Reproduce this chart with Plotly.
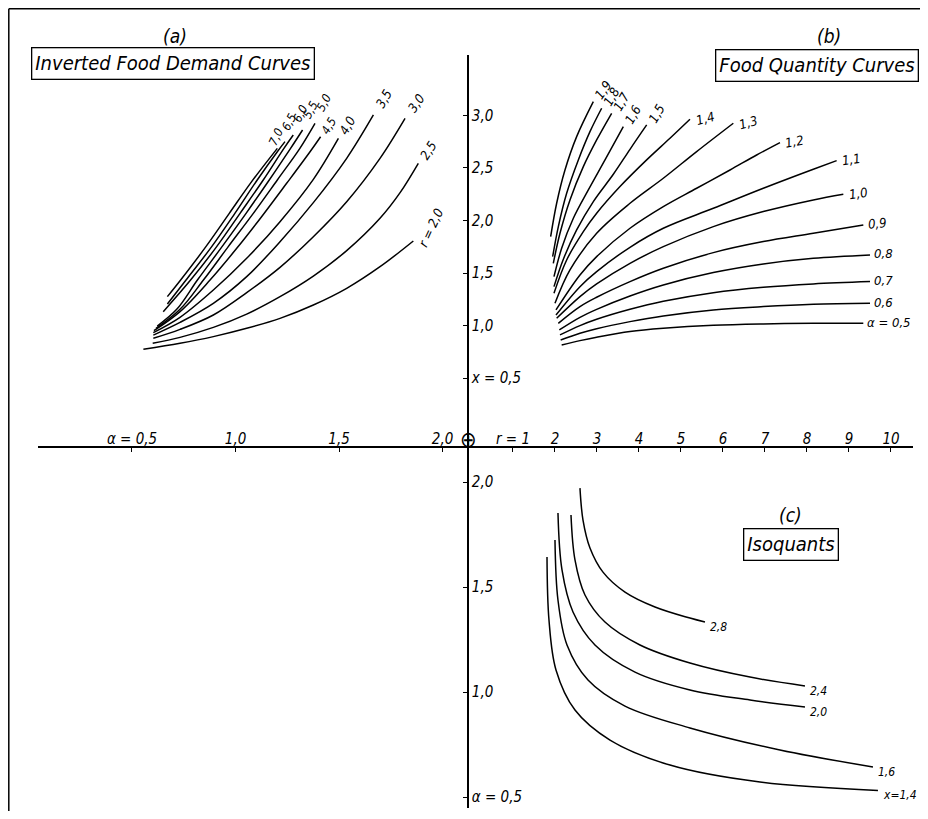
import plotly.graph_objects as go

# ---------------- data ----------------
# (a) Inverted food demand curves: alpha (horizontal, to the left) vs x (vertical, up), one curve per r
demand_r_labels = ["r = 2,0", "2,5", "3,0", "3,5", "4,0", "4,5", "5,0", "5,5", "6,0", "6,5", "7,0"]
demand_alpha = [
    [0.555, 0.732, 0.893, 1.054, 1.215, 1.376, 1.537, 1.698, 1.859],
    [0.600, 0.732, 0.893, 1.054, 1.215, 1.376, 1.537, 1.698, 1.795, 1.883],
    [0.603, 0.732, 0.893, 1.054, 1.215, 1.376, 1.537, 1.698, 1.819],
    [0.603, 0.732, 0.893, 1.054, 1.215, 1.376, 1.537, 1.666],
    [0.603, 0.732, 0.893, 1.054, 1.215, 1.376, 1.497],
    [0.606, 0.732, 0.877, 1.006, 1.126, 1.247, 1.360, 1.411],
    [0.616, 0.732, 0.845, 0.965, 1.086, 1.202, 1.311, 1.384],
    [0.622, 0.716, 0.816, 0.935, 1.051, 1.163, 1.266, 1.324],
    [0.651, 0.783, 0.909, 1.022, 1.134, 1.234, 1.279],
    [0.671, 0.761, 0.885, 0.997, 1.105, 1.202, 1.239],
    [0.671, 0.735, 0.857, 0.970, 1.078, 1.202],
]
demand_x = [
    [0.773, 0.830, 0.894, 0.973, 1.068, 1.195, 1.354, 1.560, 1.805],
    [0.830, 0.887, 0.982, 1.109, 1.275, 1.471, 1.713, 2.021, 2.265, 2.544],
    [0.878, 0.963, 1.100, 1.313, 1.554, 1.846, 2.179, 2.592, 2.973],
    [0.909, 1.030, 1.211, 1.465, 1.798, 2.170, 2.592, 3.005],
    [0.932, 1.078, 1.338, 1.640, 1.989, 2.392, 2.782],
    [0.951, 1.132, 1.433, 1.735, 2.036, 2.354, 2.655, 2.798],
    [0.973, 1.154, 1.433, 1.751, 2.068, 2.386, 2.687, 2.925],
    [0.995, 1.154, 1.433, 1.751, 2.068, 2.386, 2.687, 2.862],
    [1.132, 1.433, 1.751, 2.068, 2.386, 2.687, 2.814],
    [1.205, 1.433, 1.751, 2.068, 2.386, 2.655, 2.751],
    [1.275, 1.433, 1.751, 2.068, 2.370, 2.687],
]

# (b) Food quantity curves: r (horizontal) vs x (vertical), one curve per alpha
quantity_labels = ["α = 0,5", "0,6", "0,7", "0,8", "0,9", "1,0", "1,1", "1,2", "1,3", "1,4",
                   "1,5", "1,6", "1,7", "1,8", "1,9"]
quantity_r = [
    [2.159, 2.595, 2.992, 3.786, 4.579, 5.770, 6.960, 8.151, 9.341],
    [2.135, 2.595, 2.992, 3.786, 4.579, 5.770, 6.960, 8.151, 9.500],
    [2.119, 2.595, 2.992, 3.786, 4.579, 5.770, 6.960, 8.151, 9.500],
    [2.103, 2.595, 2.992, 3.786, 4.579, 5.770, 6.960, 8.151, 9.500],
    [2.079, 2.595, 2.992, 3.786, 4.579, 5.770, 6.960, 8.151, 9.341],
    [2.040, 2.595, 2.992, 3.786, 4.579, 5.770, 6.960, 8.151, 8.865],
    [2.024, 2.595, 2.992, 3.786, 4.579, 5.770, 6.960, 8.151, 8.706],
    [2.024, 2.595, 2.992, 3.786, 4.579, 5.373, 6.167, 6.802, 7.357],
    [2.000, 2.357, 2.992, 3.786, 4.579, 5.373, 6.246],
    [1.976, 2.278, 2.675, 2.992, 3.548, 4.183, 4.738, 5.214],
    [1.976, 2.199, 2.516, 2.913, 3.389, 3.786, 4.183],
    [1.976, 2.159, 2.437, 2.794, 3.191, 3.627],
    [1.960, 2.119, 2.357, 2.675, 2.992, 3.349],
    [1.945, 2.080, 2.278, 2.556, 2.833, 3.111],
    [1.897, 2.040, 2.238, 2.516, 2.913],
]
quantity_x = [
    [0.815, 0.856, 0.888, 0.942, 0.973, 1.002, 1.015, 1.021, 1.021],
    [0.862, 0.926, 0.970, 1.037, 1.091, 1.148, 1.180, 1.202, 1.211],
    [0.910, 0.999, 1.059, 1.154, 1.231, 1.313, 1.364, 1.396, 1.418],
    [0.958, 1.078, 1.154, 1.281, 1.386, 1.504, 1.586, 1.640, 1.672],
    [1.021, 1.180, 1.269, 1.418, 1.545, 1.694, 1.799, 1.878, 1.958],
    [1.069, 1.275, 1.396, 1.592, 1.751, 1.942, 2.085, 2.196, 2.250],
    [1.100, 1.370, 1.513, 1.745, 1.926, 2.116, 2.307, 2.488, 2.570],
    [1.148, 1.481, 1.656, 1.926, 2.132, 2.307, 2.481, 2.624, 2.742],
    [1.211, 1.529, 1.878, 2.164, 2.402, 2.656, 2.926],
    [1.307, 1.624, 1.894, 2.069, 2.323, 2.577, 2.783, 2.964],
    [1.370, 1.631, 1.910, 2.180, 2.440, 2.678, 2.910],
    [1.465, 1.735, 2.021, 2.291, 2.577, 2.894],
    [1.592, 1.878, 2.196, 2.513, 2.767, 3.021],
    [1.656, 1.942, 2.259, 2.577, 2.846, 3.069],
    [1.846, 2.164, 2.481, 2.799, 3.132],
]

# (c) Isoquants: r (horizontal) vs alpha (vertical, decreasing downward), one curve per x
iso_labels = ["x=1,4", "1,6", "2,0", "2,4", "2,8"]
iso_r = [
    [1.810, 1.857, 2.024, 2.476, 3.310, 4.738, 6.881, 9.690],
    [2.000, 2.071, 2.286, 2.786, 3.667, 5.214, 7.357, 9.571],
    [2.071, 2.167, 2.429, 2.952, 3.905, 5.214, 6.643, 7.952],
    [2.381, 2.476, 2.714, 3.190, 4.024, 5.214, 6.643, 7.952],
    [2.595, 2.667, 2.833, 3.143, 3.667, 4.381, 5.214, 5.571],
]
iso_alpha = [
    [1.643, 1.343, 1.105, 0.914, 0.771, 0.652, 0.571, 0.531],
    [1.724, 1.438, 1.224, 1.057, 0.933, 0.829, 0.724, 0.643],
    [1.852, 1.581, 1.381, 1.224, 1.095, 1.010, 0.962, 0.929],
    [1.843, 1.629, 1.462, 1.333, 1.224, 1.138, 1.071, 1.029],
    [1.971, 1.819, 1.686, 1.571, 1.476, 1.405, 1.352, 1.333],
]

# axis ticks
alpha_ticks = [0.5, 1.0, 1.5, 2.0]
alpha_ticktext = ["α = 0,5", "1,0", "1,5", "2,0"]
x_ticks = [0.5, 1.0, 1.5, 2.0, 2.5, 3.0]
x_ticktext = ["x = 0,5", "1,0", "1,5", "2,0", "2,5", "3,0"]
r_ticks = [1, 2, 3, 4, 5, 6, 7, 8, 9, 10]
r_ticktext = ["r = 1", "2", "3", "4", "5", "6", "7", "8", "9", "10"]

# ---------------- styling / layout ----------------
OFF = 8                                # the page body adds an 8 px margin around the figure
W, H = 928 - 2 * OFF, 819 - 2 * OFF    # keep the page inside the window (no scrollbars)
FONT = "DejaVu Sans Condensed, DejaVu Sans, sans-serif"
LINE = dict(color="black", width=1.5)


def fx(px):  # window pixel -> paper x
    return (px - OFF) / W


def fy(py):  # window pixel -> paper y
    return 1 - (py - OFF) / H


# label placement offsets (pixels) relative to the end of each curve
demand_label_shift = [(18, 13), (10, 13), (11, 15), (11, 16), (9, 13), (8, 11),
                      (9, 20), (8, 20), (7, 21), (4, 20), (-1, 11)]
demand_label_angle = [-65, -58, -55, -60, -60, -60, -62, -62, -62, -62, -65]
demand_label_size = [13, 13, 13, 13, 13, 12, 12, 12, 12, 12, 12]
quantity_label_angle = [0, 0, 0, 0, -5, -8, -8, -10, -15, -15, -60, -60, -60, -60, -55]

fig = go.Figure()
annotations = []


def label(xref, yref, xv, yv, text, angle, xshift, yshift, xanchor, yanchor, size=13):
    annotations.append(dict(
        x=xv, y=yv, xref=xref, yref=yref, text=text, showarrow=False,
        textangle=angle, xanchor=xanchor, yanchor=yanchor,
        xshift=xshift, yshift=yshift,
        font=dict(family=FONT, size=size, color="black", style="italic"),
    ))


# (a)
for i, (lab, a, xv) in enumerate(zip(demand_r_labels, demand_alpha, demand_x)):
    fig.add_trace(go.Scatter(x=a, y=xv, xaxis="x", yaxis="y", mode="lines",
                             line=dict(shape="spline", smoothing=1.0, **LINE),
                             hoverinfo="skip", showlegend=False))
    dx, dy = demand_label_shift[i]
    label("x", "y", a[-1], xv[-1], lab, demand_label_angle[i], dx, dy, "center", "middle",
          demand_label_size[i])

# (b)
for lab, r, xv, ang in zip(quantity_labels, quantity_r, quantity_x, quantity_label_angle):
    fig.add_trace(go.Scatter(x=r, y=xv, xaxis="x2", yaxis="y", mode="lines",
                             line=dict(shape="spline", smoothing=1.0, **LINE),
                             hoverinfo="skip", showlegend=False))
    if ang < -30:
        label("x2", "y", r[-1], xv[-1], lab, ang, -4, -3, "left", "bottom")
    else:
        label("x2", "y", r[-1], xv[-1], lab, ang, 2, 1, "left", "middle")

# (c)
for lab, r, a in zip(iso_labels, iso_r, iso_alpha):
    fig.add_trace(go.Scatter(x=r, y=a, xaxis="x2", yaxis="y2", mode="lines",
                             line=dict(shape="spline", smoothing=1.0, **LINE),
                             hoverinfo="skip", showlegend=False))
    label("x2", "y2", r[-1], a[-1], lab, 0, 3, -5, "left", "middle", 12)

# axis geometry (window-pixel position of the hand-drawn cross)
ox, oy = 468, 447
axpos_x = fx(ox)
axpos_y = fy(oy)

tickfont = dict(family=FONT, size=15, color="black", style="italic")
base = dict(showgrid=False, zeroline=False, anchor="free", fixedrange=True,
            tickwidth=1.2, tickcolor="black", ticklen=4)
main = dict(showline=True, linecolor="black", linewidth=1.7, ticks="inside",
            tickfont=tickfont, **base)
ghost = dict(showline=False, ticks="outside", showticklabels=False, **base)

xa_dom = [fx(38), fx(ox)]
xb_dom = [fx(ox), fx(913)]
ya_dom = [axpos_y, fy(55)]
yc_dom = [fy(808), axpos_y]
xa_rng = [0.046, 2.123]
xb_rng = [-0.071, 10.524]
ya_rng = [-0.157, 3.576]
yc_rng = [0.4476, 2.1667]

fig.update_layout(
    width=W, height=H,
    margin=dict(l=0, r=0, t=0, b=0),
    paper_bgcolor="white", plot_bgcolor="rgba(0,0,0,0)",
    font=dict(family=FONT, color="black", style="italic"),
    xaxis=dict(domain=xa_dom, range=xa_rng, side="top", position=axpos_y,
               tickvals=alpha_ticks, ticktext=alpha_ticktext, ticklabelstandoff=-4, **main),
    xaxis2=dict(domain=xb_dom, range=xb_rng, side="top", position=axpos_y,
                tickvals=r_ticks, ticktext=r_ticktext, ticklabelstandoff=-4, **main),
    yaxis=dict(domain=ya_dom, range=ya_rng, side="right", position=axpos_x,
               tickvals=x_ticks, ticktext=x_ticktext, **main),
    yaxis2=dict(domain=yc_dom, range=yc_rng, side="right", position=axpos_x,
                tickvals=alpha_ticks, ticktext=alpha_ticktext, **main),
    # second set of tick marks on the other side so each tick crosses the axis line
    xaxis3=dict(overlaying="x", domain=xa_dom, range=xa_rng, side="top", position=axpos_y,
                tickvals=alpha_ticks, **ghost),
    xaxis4=dict(overlaying="x2", domain=xb_dom, range=xb_rng, side="top", position=axpos_y,
                tickvals=r_ticks, **ghost),
    yaxis3=dict(overlaying="y", domain=ya_dom, range=ya_rng, side="right", position=axpos_x,
                tickvals=x_ticks, **ghost),
    yaxis4=dict(overlaying="y2", domain=yc_dom, range=yc_rng, side="right", position=axpos_x,
                tickvals=alpha_ticks, **ghost),
)


def paper_text(px, py, text, size, box=False):
    d = dict(x=fx(px), y=fy(py), xref="paper", yref="paper", text=text,
             showarrow=False, xanchor="center", yanchor="middle",
             font=dict(family=FONT, size=size, color="black", style="italic"))
    if box:
        d.update(bordercolor="black", borderwidth=1.3, borderpad=3, bgcolor="white")
    annotations.append(d)


paper_text(175, 36, "(a)", 19)
paper_text(173, 63, "Inverted Food Demand Curves", 20, box=True)
paper_text(829, 36, "(b)", 19)
paper_text(817, 66, "Food Quantity Curves", 20, box=True)
paper_text(790, 515, "(c)", 19)
paper_text(791, 544, "Isoquants", 20, box=True)
paper_text(ox, 439, "⊕", 22)

fig.update_layout(annotations=annotations)

# outer frame (top and left edges of the page)
fig.add_shape(type="line", xref="paper", yref="paper", x0=fx(8.8), x1=1, y0=fy(8.8), y1=fy(8.8),
              line=dict(color="black", width=1.5))
fig.add_shape(type="line", xref="paper", yref="paper", x0=fx(8.8), x1=fx(8.8), y0=0, y1=fy(8.8),
              line=dict(color="black", width=1.5))

fig.write_html("out.html")
